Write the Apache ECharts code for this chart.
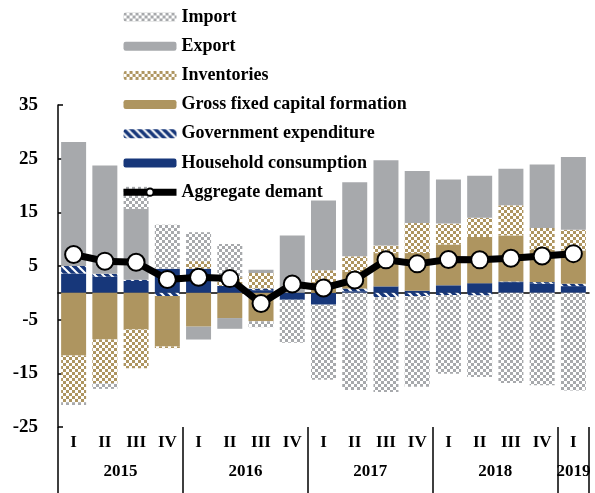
<!DOCTYPE html>
<html>
<head>
<meta charset="utf-8">
<script src="https://cdn.jsdelivr.net/npm/echarts@6/dist/echarts.min.js"></script>
<style>
html,body{margin:0;padding:0;background:#fff;}
#c{width:595px;height:493px;}
</style>
</head>
<body>
<div id="c"></div>
<script>
// ---- data ----
var quarters = ['I','II','III','IV','I','II','III','IV','I','II','III','IV','I','II','III','IV','I'];
var years = ['2015','2016','2017','2018','2019'];
var quartersPerYear = [4,4,4,4,1];
var household = [3.6, 3.0, 2.2, 4.5, 4.5, 1.3, 0.5, -1.3, -2.2, 0.3, 1.2, 0.4, 1.4, 1.8, 2.0, 1.7, 1.25];
var government = [1.4, 0.55, 0.25, -0.6, 0, 0, 0.3, 0, 0, 0.5, -0.8, -0.6, -0.4, -0.5, 0.1, 0.3, 0.45];
var gfcf = [-11.7, -8.7, -6.85, -9.4, -6.3, -4.7, -5.3, 0, 2.0, 3.1, 6.2, 7.0, 7.6, 8.6, 8.6, 6.0, 6.2];
var inventories = [-8.7, -8.15, -7.2, -0.3, 1.4, 1.6, 2.9, 0, 2.2, 2.9, 1.4, 5.6, 3.9, 3.6, 5.6, 4.1, 3.85];
var exportV = [23.1, 20.2, 13.2, 0, -2.4, -2.0, 0.6, 10.7, 13.0, 13.8, 15.9, 9.7, 8.2, 7.8, 6.8, 11.8, 13.55];
var importV = [-0.5, -1.05, 4.1, 8.2, 5.4, 6.2, -1.1, -8.0, -14.0, -18.1, -17.7, -16.9, -14.7, -15.2, -16.8, -17.2, -18.2];
var aggregate = [7.15, 5.9, 5.7, 2.5, 2.9, 2.65, -2.0, 1.65, 0.9, 2.4, 6.15, 5.4, 6.2, 6.15, 6.45, 6.85, 7.3];
var yTicks = {min: -25, max: 35, step: 10};

// ---- derived label positions ----
var yearAt = {};
var boundaries = [0];
(function(){
  var s = 0;
  for (var i = 0; i < years.length; i++) {
    yearAt[String(s + quartersPerYear[i] / 2)] = years[i];
    s += quartersPerYear[i];
    boundaries.push(s);
  }
})();

// ---- patterns ----
var NAVY = '#17377a', TAN = '#ae9560', GRAY = '#a7a9ac';
function checker(col) {
  var cv = document.createElement('canvas');
  cv.width = 6; cv.height = 6;
  var ctx = cv.getContext('2d');
  ctx.fillStyle = '#fff'; ctx.fillRect(0,0,6,6);
  ctx.fillStyle = col; ctx.fillRect(0,0,3,3); ctx.fillRect(3,3,3,3);
  return {image: cv, repeat: 'repeat'};
}
function stripes(col) {
  var n = 8;
  var cv = document.createElement('canvas');
  cv.width = n; cv.height = n;
  var ctx = cv.getContext('2d');
  ctx.fillStyle = '#fff'; ctx.fillRect(0,0,n,n);
  ctx.strokeStyle = col; ctx.lineWidth = 3.6;
  for (var k = -1; k <= 1; k++) {
    ctx.beginPath();
    ctx.moveTo(k*n - 2, -2);
    ctx.lineTo(k*n + n + 2, n + 2);
    ctx.stroke();
  }
  return {image: cv, repeat: 'repeat'};
}

var FONT = 'Liberation Serif';
var txt = {fontFamily: FONT, fontWeight: 'bold', color: '#000'};

function bar(name, data, color) {
  return {
    name: name, type: 'bar', stack: 'total', data: data,
    barCategoryGap: '20%',
    itemStyle: {color: color},
    emphasis: {disabled: true}
  };
}

var chart = echarts.init(document.getElementById('c'), null, {renderer: 'canvas'});
chart.setOption({
  animation: false,
  backgroundColor: '#fff',
  grid: {left: 58, right: 6, top: 105, bottom: 66, containLabel: false, outerBoundsMode: 'none'},
  legend: {
    orient: 'vertical', left: 120, top: 8, padding: 0,
    itemWidth: 53, itemHeight: 9, itemGap: 11.2,
    data: ['Import','Export','Inventories','Gross fixed capital formation','Government expenditure','Household consumption',
      {name: 'Aggregate demant', lineStyle: {width: 7, color: '#000'}, itemStyle: {color: '#fff', borderColor: '#000', borderWidth: 2}}],
    textStyle: {fontFamily: FONT, fontWeight: 'bold', fontSize: 18, lineHeight: 18, color: '#000'},
    selectedMode: false
  },
  xAxis: [
    {type: 'category', data: quarters, position: 'bottom',
     axisLine: {show: false, onZero: false}, axisTick: {show: false},
     axisLabel: Object.assign({fontSize: 17, margin: 7, interval: 0}, txt)},
    {type: 'value', min: 0, max: boundaries[boundaries.length-1], interval: 0.5, position: 'bottom',
     axisLine: {show: false, onZero: false}, axisTick: {show: false}, splitLine: {show: false},
     axisLabel: Object.assign({fontSize: 17, margin: 36, formatter: function(v){ return yearAt[String(v)] || ''; }}, txt)},
    {type: 'value', min: 0, max: boundaries[boundaries.length-1], interval: 4, position: 'bottom',
     axisLine: {show: false, onZero: false}, splitLine: {show: false},
     axisTick: {show: true, length: 66, lineStyle: {color: '#000', width: 1.5}},
     axisLabel: {show: false}},
    {type: 'category', data: quarters, position: 'bottom',
     axisLine: {show: true, onZero: true, lineStyle: {color: '#000', width: 1.5}},
     axisTick: {show: false}, axisLabel: {show: false}}
  ],
  yAxis: {
    type: 'value', min: yTicks.min, max: yTicks.max, interval: yTicks.step,
    axisLine: {show: true, lineStyle: {color: '#000', width: 1.5}},
    axisTick: {show: true, inside: true, length: 5, lineStyle: {color: '#000', width: 1.5}},
    splitLine: {show: false},
    axisLabel: Object.assign({fontSize: 19, margin: 20}, txt)
  },
  series: [
    bar('Household consumption', household, NAVY),
    bar('Government expenditure', government, stripes(NAVY)),
    bar('Gross fixed capital formation', gfcf, TAN),
    bar('Inventories', inventories, checker(TAN)),
    bar('Export', exportV, GRAY),
    bar('Import', importV, checker(GRAY)),
    {
      name: 'Aggregate demant', type: 'line', data: aggregate,
      symbol: 'circle', symbolSize: 17,
      lineStyle: {color: '#000', width: 7},
      itemStyle: {color: '#fff', borderColor: '#000', borderWidth: 2},
      z: 5, emphasis: {disabled: true}
    }
  ]
});
</script>
</body>
</html>
